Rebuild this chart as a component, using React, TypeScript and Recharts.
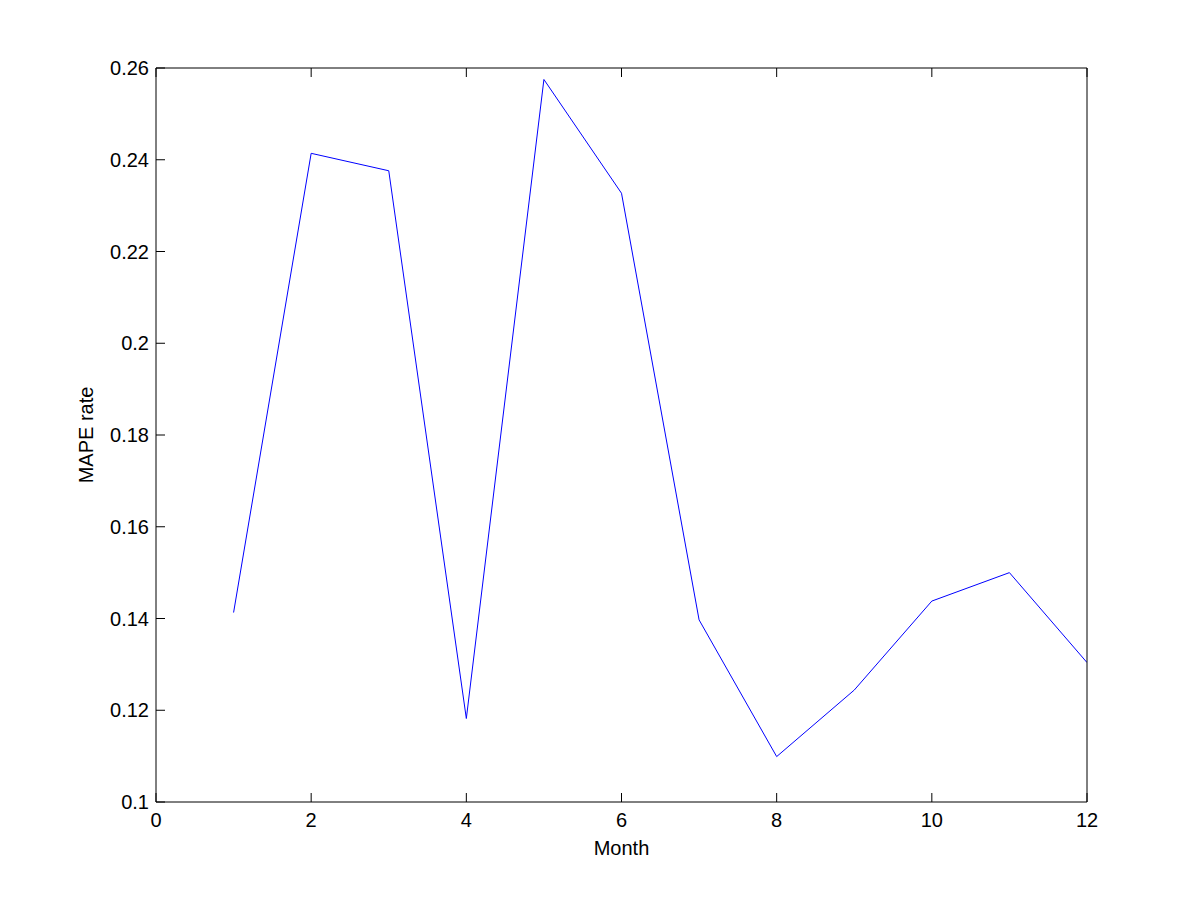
import { LineChart, Line, XAxis, YAxis } from "recharts";

const months = [1, 2, 3, 4, 5, 6, 7, 8, 9, 10, 11, 12];
const mapeRate = [
  0.1413, 0.2414, 0.2376, 0.1182, 0.2575, 0.2327, 0.1397, 0.1099, 0.1244,
  0.1438, 0.15, 0.1304,
];
const xTicks = [0, 2, 4, 6, 8, 10, 12];
const yTicks = [0.1, 0.12, 0.14, 0.16, 0.18, 0.2, 0.22, 0.24, 0.26];

const data = months.map((m, i) => ({ month: m, mape: mapeRate[i] }));

const font = "'Liberation Sans', Arial, Helvetica, sans-serif";
const tickStyle = { fill: "#000", fontSize: 20, fontFamily: font };

// strip trailing zeros like matlab does: 0.10 -> 0.1
const formatY = (v: number) => String(Number(v.toFixed(2)));

export default function App() {
  return (
    <div style={{ position: "absolute", left: 0, top: 0, background: "#fff" }}>
      <LineChart
        width={1201}
        height={901}
        data={data}
        margin={{ top: 58, right: 104, bottom: 39, left: 76 }}
      >
        <XAxis
          dataKey="month"
          type="number"
          domain={[0, 12]}
          ticks={xTicks}
          allowDataOverflow
          height={60}
          stroke="#000"
          tickSize={-9}
          tickMargin={20}
          tick={tickStyle}
          label={{
            value: "Month",
            position: "insideBottom",
            offset: 7,
            style: { fill: "#000", fontSize: 20, fontFamily: font },
          }}
        />
        <XAxis
          xAxisId="top"
          orientation="top"
          dataKey="month"
          type="number"
          domain={[0, 12]}
          ticks={xTicks}
          height={10}
          stroke="#000"
          tickSize={-9}
          tickFormatter={() => ""}
        />
        <YAxis
          type="number"
          domain={[0.1, 0.26]}
          ticks={yTicks}
          allowDataOverflow
          width={80}
          stroke="#000"
          tickSize={-9}
          tickMargin={16}
          tick={tickStyle}
          tickFormatter={formatY}
          label={{
            value: "MAPE rate",
            angle: -90,
            position: "insideLeft",
            offset: 10,
            style: {
              textAnchor: "middle",
              fill: "#000",
              fontSize: 20,
              fontFamily: font,
            },
          }}
        />
        <YAxis
          yAxisId="right"
          orientation="right"
          type="number"
          domain={[0.1, 0.26]}
          ticks={yTicks}
          width={10}
          stroke="#000"
          tickSize={-9}
          tickFormatter={() => ""}
        />
        <Line
          type="linear"
          dataKey="mape"
          stroke="#0000ff"
          strokeWidth={1}
          dot={false}
          activeDot={false}
          isAnimationActive={false}
        />
      </LineChart>
    </div>
  );
}
